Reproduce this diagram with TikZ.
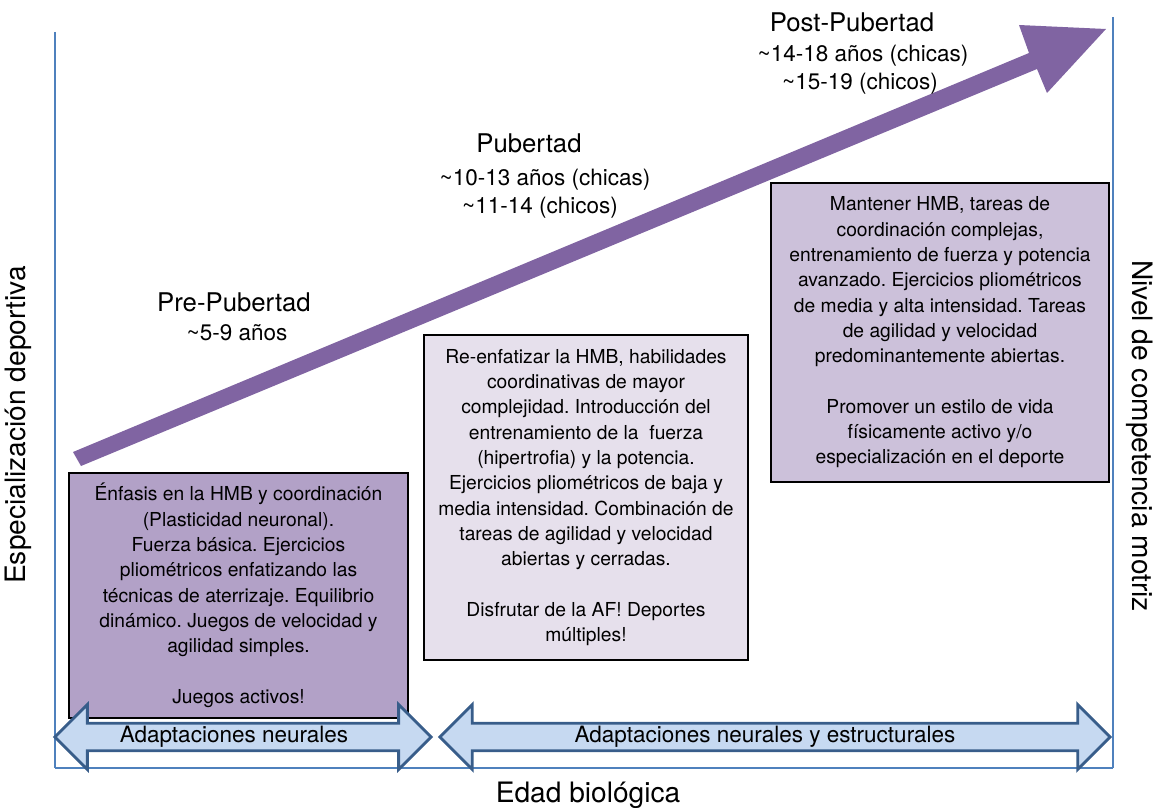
\documentclass[tikz,border=0pt]{standalone}
\usepackage{fontspec}
\setmainfont{TeX Gyre Heros}
\usetikzlibrary{shapes.arrows,positioning}
\definecolor{axisblue}{HTML}{4F81BD}
\definecolor{growpurple}{HTML}{8064A2}
\definecolor{prefill}{HTML}{B2A1C7}
\definecolor{pubfill}{HTML}{E6E0EC}
\definecolor{postfill}{HTML}{CCC1DA}
\definecolor{adaptfill}{HTML}{C6D9F1}
\definecolor{adaptline}{HTML}{385D8A}
\frenchspacing
\tikzset{
  stagebox/.style={draw=black, line width=2pt, align=center, inner sep=0pt, font=\fontsize{13.7}{18}\selectfont},
  stagename/.style={font=\fontsize{18.3}{22}\selectfont},
  stageage/.style={font=\fontsize{16}{19}\selectfont},
  adaptarrow/.style={double arrow, double arrow head extend=0.41cm, draw=adaptline, line width=2pt, fill=adaptfill, minimum width=1.62cm, inner sep=0pt, font=\fontsize{16}{19}\selectfont},
  axisline/.style={draw=axisblue, line width=1.3pt},
  axislabel/.style={font=\fontsize{20}{24}\selectfont},
}

\begin{document}
\begin{tikzpicture}[x=0.025cm, y=-0.025cm]
  \useasboundingbox (0,0) rectangle (1157,808);
  % axes
  \draw[axisline] (55,32) -- (55,768);
  \draw[axisline] (1113,17) -- (1113,768);
  \draw[axisblue, line width=0.8pt] (55,768) -- (1113,768);
  % growth arrow
  \fill[growpurple] (73,452) -- (1029,53) -- (1019,25) -- (1106,29) -- (1047,93) -- (1037,69) -- (81,466) -- cycle;
  % stage titles
  \node[stagename] (pre) at (234,302) {Pre-Pubertad};
  \node[stageage] (preage) at (237,333) {\textasciitilde5-9 años};
  \node[stagename] (pub) at (529,143) {Pubertad};
  \node[stageage] (pubgirls) at (545,180) {\textasciitilde10-13 años (chicas)};
  \node[stageage] (pubboys) at (540,208) {\textasciitilde11-14 (chicos)};
  \node[stagename] (post) at (852,22) {Post-Pubertad};
  \node[stageage] (postgirls) at (863,56) {\textasciitilde14-18 años (chicas)};
  \node[stageage] (postboys) at (860,84) {\textasciitilde15-19 (chicos)};
  % stage boxes
  \node[stagebox, fill=prefill, minimum width=8.47cm, minimum height=6.12cm] (boxpre) at (238.5,595.5)
    {Énfasis en la HMB y coordinación\\(Plasticidad neuronal).\\Fuerza básica. Ejercicios\\pliométricos enfatizando las\\técnicas de aterrizaje. Equilibrio\\dinámico. Juegos de velocidad y\\agilidad simples.\\[18pt]Juegos activos!};
  \node[stagebox, fill=pubfill, minimum width=8.1cm, minimum height=8.12cm] (boxpub) at (586,497.5)
    {Re-enfatizar la HMB, habilidades\\coordinativas de mayor\\complejidad. Introducción del\\entrenamiento de la \ fuerza\\(hipertrofia) y la potencia.\\Ejercicios pliométricos de baja y\\media intensidad. Combinación de\\tareas de agilidad y velocidad\\abiertas y cerradas.\\[18pt]Disfrutar de la AF! Deportes\\múltiples!};
  \node[stagebox, fill=postfill, minimum width=8.45cm, minimum height=7.47cm] (boxpost) at (940,332.5)
    {Mantener HMB, tareas de\\coordinación complejas,\\entrenamiento de fuerza y potencia\\avanzado. Ejercicios pliométricos\\de media y alta intensidad. Tareas\\de agilidad y velocidad\\predominantemente abiertas.\\[18pt]Promover un estilo de vida\\físicamente activo y/o\\especialización en el deporte};
  % adaptation arrows
  \node[adaptarrow, minimum height=9.4cm] (adaptneural) at (243,737) {Adaptaciones neurales\hspace*{0.45cm}};
  \node[adaptarrow, minimum height=16.75cm] (adaptstruct) at (775,737) {Adaptaciones neurales y estructurales\hspace*{0.5cm}};
  % axis labels
  \node[axislabel] (xlabel) at (588,795) {Edad biológica};
  \node[axislabel, rotate=90] (ylabel) at (18,425) {Especialización deportiva};
  \node[axislabel, rotate=-90] (zlabel) at (1140,436) {Nivel de competencia motriz};
\end{tikzpicture}
\end{document}
